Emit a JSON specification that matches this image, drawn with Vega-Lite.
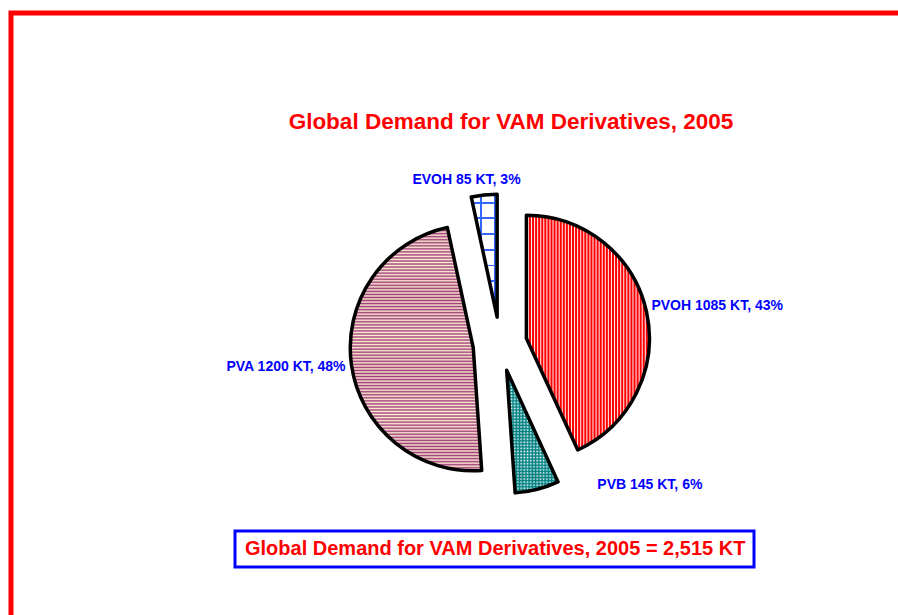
{
  "$schema": "https://vega.github.io/schema/vega-lite/v6.json",
  "autosize": {"type": "none"},
  "width": 978,
  "height": 662,
  "padding": {"left": 11, "top": 13, "right": -91, "bottom": -60},
  "background": "white",
  "view": {"stroke": "#ff0000", "strokeWidth": 5},
  "title": {
    "text": "Global Demand for VAM Derivatives, 2005",
    "color": "#ff0000",
    "font": "Liberation Sans",
    "fontWeight": "bold",
    "fontSize": 22.5,
    "anchor": "middle",
    "frame": "group",
    "baseline": "alphabetic",
    "offset": -138,
    "dx": 11
  },
  "data": {
    "values": [
      {"name": "PVOH", "value": 1085, "label": "PVOH 1085 KT, 43%"},
      {"name": "PVB", "value": 145, "label": "PVB 145 KT, 6%"},
      {"name": "PVA", "value": 1200, "label": "PVA 1200 KT, 48%"},
      {"name": "EVOH", "value": 85, "label": "EVOH 85 KT, 3%"}
    ]
  },
  "transform": [
    {"stack": "value", "groupby": [], "as": ["v0", "v1"]},
    {"joinaggregate": [{"op": "sum", "field": "value", "as": "total"}]},
    {"calculate": "(datum.v0 + datum.v1) / 2", "as": "mid"}
  ],
  "layer": [
    {
      "transform": [{"filter": "datum.name == 'PVOH'"}],
      "mark": {
        "type": "arc", "radius": 123,
        "xOffset": {"expr": "27*sin(PI*(datum.v0+datum.v1)/datum.total)"},
        "yOffset": {"expr": "-27*cos(PI*(datum.v0+datum.v1)/datum.total)"},
        "fill": {"gradient": "linear", "x1": 0, "y1": 0, "x2": 1, "y2": 0, "stops": [
          {"offset": 0, "color": "#ff0000"}, {"offset": 0.0083, "color": "#ff0000"}, {"offset": 0.0167, "color": "#fff0f0"}, {"offset": 0.025, "color": "#ff0000"}, {"offset": 0.0333, "color": "#ff0000"}, {"offset": 0.0417, "color": "#fff0f0"}, {"offset": 0.05, "color": "#ff0000"}, {"offset": 0.0583, "color": "#ff0000"}, {"offset": 0.0667, "color": "#fff0f0"}, {"offset": 0.075, "color": "#ff0000"}, {"offset": 0.0833, "color": "#ff0000"}, {"offset": 0.0917, "color": "#fff0f0"},
          {"offset": 0.1, "color": "#ff0000"}, {"offset": 0.1083, "color": "#ff0000"}, {"offset": 0.1167, "color": "#fff0f0"}, {"offset": 0.125, "color": "#ff0000"}, {"offset": 0.1333, "color": "#ff0000"}, {"offset": 0.1417, "color": "#fff0f0"}, {"offset": 0.15, "color": "#ff0000"}, {"offset": 0.1583, "color": "#ff0000"}, {"offset": 0.1667, "color": "#fff0f0"}, {"offset": 0.175, "color": "#ff0000"}, {"offset": 0.1833, "color": "#ff0000"}, {"offset": 0.1917, "color": "#fff0f0"},
          {"offset": 0.2, "color": "#ff0000"}, {"offset": 0.2083, "color": "#ff0000"}, {"offset": 0.2167, "color": "#fff0f0"}, {"offset": 0.225, "color": "#ff0000"}, {"offset": 0.2333, "color": "#ff0000"}, {"offset": 0.2417, "color": "#fff0f0"}, {"offset": 0.25, "color": "#ff0000"}, {"offset": 0.2583, "color": "#ff0000"}, {"offset": 0.2667, "color": "#fff0f0"}, {"offset": 0.275, "color": "#ff0000"}, {"offset": 0.2833, "color": "#ff0000"}, {"offset": 0.2917, "color": "#fff0f0"},
          {"offset": 0.3, "color": "#ff0000"}, {"offset": 0.3083, "color": "#ff0000"}, {"offset": 0.3167, "color": "#fff0f0"}, {"offset": 0.325, "color": "#ff0000"}, {"offset": 0.3333, "color": "#ff0000"}, {"offset": 0.3417, "color": "#fff0f0"}, {"offset": 0.35, "color": "#ff0000"}, {"offset": 0.3583, "color": "#ff0000"}, {"offset": 0.3667, "color": "#fff0f0"}, {"offset": 0.375, "color": "#ff0000"}, {"offset": 0.3833, "color": "#ff0000"}, {"offset": 0.3917, "color": "#fff0f0"},
          {"offset": 0.4, "color": "#ff0000"}, {"offset": 0.4083, "color": "#ff0000"}, {"offset": 0.4167, "color": "#fff0f0"}, {"offset": 0.425, "color": "#ff0000"}, {"offset": 0.4333, "color": "#ff0000"}, {"offset": 0.4417, "color": "#fff0f0"}, {"offset": 0.45, "color": "#ff0000"}, {"offset": 0.4583, "color": "#ff0000"}, {"offset": 0.4667, "color": "#fff0f0"}, {"offset": 0.475, "color": "#ff0000"}, {"offset": 0.4833, "color": "#ff0000"}, {"offset": 0.4917, "color": "#fff0f0"},
          {"offset": 0.5, "color": "#ff0000"}, {"offset": 0.5083, "color": "#ff0000"}, {"offset": 0.5167, "color": "#fff0f0"}, {"offset": 0.525, "color": "#ff0000"}, {"offset": 0.5333, "color": "#ff0000"}, {"offset": 0.5417, "color": "#fff0f0"}, {"offset": 0.55, "color": "#ff0000"}, {"offset": 0.5583, "color": "#ff0000"}, {"offset": 0.5667, "color": "#fff0f0"}, {"offset": 0.575, "color": "#ff0000"}, {"offset": 0.5833, "color": "#ff0000"}, {"offset": 0.5917, "color": "#fff0f0"},
          {"offset": 0.6, "color": "#ff0000"}, {"offset": 0.6083, "color": "#ff0000"}, {"offset": 0.6167, "color": "#fff0f0"}, {"offset": 0.625, "color": "#ff0000"}, {"offset": 0.6333, "color": "#ff0000"}, {"offset": 0.6417, "color": "#fff0f0"}, {"offset": 0.65, "color": "#ff0000"}, {"offset": 0.6583, "color": "#ff0000"}, {"offset": 0.6667, "color": "#fff0f0"}, {"offset": 0.675, "color": "#ff0000"}, {"offset": 0.6833, "color": "#ff0000"}, {"offset": 0.6917, "color": "#fff0f0"},
          {"offset": 0.7, "color": "#ff0000"}, {"offset": 0.7083, "color": "#ff0000"}, {"offset": 0.7167, "color": "#fff0f0"}, {"offset": 0.725, "color": "#ff0000"}, {"offset": 0.7333, "color": "#ff0000"}, {"offset": 0.7417, "color": "#fff0f0"}, {"offset": 0.75, "color": "#ff0000"}, {"offset": 0.7583, "color": "#ff0000"}, {"offset": 0.7667, "color": "#fff0f0"}, {"offset": 0.775, "color": "#ff0000"}, {"offset": 0.7833, "color": "#ff0000"}, {"offset": 0.7917, "color": "#fff0f0"},
          {"offset": 0.8, "color": "#ff0000"}, {"offset": 0.8083, "color": "#ff0000"}, {"offset": 0.8167, "color": "#fff0f0"}, {"offset": 0.825, "color": "#ff0000"}, {"offset": 0.8333, "color": "#ff0000"}, {"offset": 0.8417, "color": "#fff0f0"}, {"offset": 0.85, "color": "#ff0000"}, {"offset": 0.8583, "color": "#ff0000"}, {"offset": 0.8667, "color": "#fff0f0"}, {"offset": 0.875, "color": "#ff0000"}, {"offset": 0.8833, "color": "#ff0000"}, {"offset": 0.8917, "color": "#fff0f0"},
          {"offset": 0.9, "color": "#ff0000"}, {"offset": 0.9083, "color": "#ff0000"}, {"offset": 0.9167, "color": "#fff0f0"}, {"offset": 0.925, "color": "#ff0000"}, {"offset": 0.9333, "color": "#ff0000"}, {"offset": 0.9417, "color": "#fff0f0"}, {"offset": 0.95, "color": "#ff0000"}, {"offset": 0.9583, "color": "#ff0000"}, {"offset": 0.9667, "color": "#fff0f0"}, {"offset": 0.975, "color": "#ff0000"}, {"offset": 0.9833, "color": "#ff0000"}, {"offset": 0.9917, "color": "#fff0f0"},
          {"offset": 1, "color": "#ff0000"}
        ]}
      },
      "encoding": {
        "theta": {"field": "v0", "type": "quantitative", "scale": {"domain": [0, 2515]}},
        "theta2": {"field": "v1"}
      }
    },
    {
      "transform": [{"filter": "datum.name == 'PVB'"}],
      "mark": {
        "type": "arc", "radius": 123, "fill": "#ffffff",
        "xOffset": {"expr": "27*sin(PI*(datum.v0+datum.v1)/datum.total)"},
        "yOffset": {"expr": "-27*cos(PI*(datum.v0+datum.v1)/datum.total)"}
      },
      "encoding": {
        "theta": {"field": "v0", "type": "quantitative", "scale": {"domain": [0, 2515]}},
        "theta2": {"field": "v1"}
      }
    },
    {
      "transform": [{"filter": "datum.name == 'PVB'"}],
      "mark": {
        "type": "arc", "radius": 123,
        "xOffset": {"expr": "27*sin(PI*(datum.v0+datum.v1)/datum.total)"},
        "yOffset": {"expr": "-27*cos(PI*(datum.v0+datum.v1)/datum.total)"},
        "fill": {"gradient": "linear", "x1": 0, "y1": 0, "x2": 0, "y2": 1, "stops": [
          {"offset": 0, "color": "#008080"}, {"offset": 0.0125, "color": "rgba(0,128,128,0)"}, {"offset": 0.025, "color": "#008080"}, {"offset": 0.0375, "color": "rgba(0,128,128,0)"}, {"offset": 0.05, "color": "#008080"}, {"offset": 0.0625, "color": "rgba(0,128,128,0)"}, {"offset": 0.075, "color": "#008080"}, {"offset": 0.0875, "color": "rgba(0,128,128,0)"},
          {"offset": 0.1, "color": "#008080"}, {"offset": 0.1125, "color": "rgba(0,128,128,0)"}, {"offset": 0.125, "color": "#008080"}, {"offset": 0.1375, "color": "rgba(0,128,128,0)"}, {"offset": 0.15, "color": "#008080"}, {"offset": 0.1625, "color": "rgba(0,128,128,0)"}, {"offset": 0.175, "color": "#008080"}, {"offset": 0.1875, "color": "rgba(0,128,128,0)"},
          {"offset": 0.2, "color": "#008080"}, {"offset": 0.2125, "color": "rgba(0,128,128,0)"}, {"offset": 0.225, "color": "#008080"}, {"offset": 0.2375, "color": "rgba(0,128,128,0)"}, {"offset": 0.25, "color": "#008080"}, {"offset": 0.2625, "color": "rgba(0,128,128,0)"}, {"offset": 0.275, "color": "#008080"}, {"offset": 0.2875, "color": "rgba(0,128,128,0)"},
          {"offset": 0.3, "color": "#008080"}, {"offset": 0.3125, "color": "rgba(0,128,128,0)"}, {"offset": 0.325, "color": "#008080"}, {"offset": 0.3375, "color": "rgba(0,128,128,0)"}, {"offset": 0.35, "color": "#008080"}, {"offset": 0.3625, "color": "rgba(0,128,128,0)"}, {"offset": 0.375, "color": "#008080"}, {"offset": 0.3875, "color": "rgba(0,128,128,0)"},
          {"offset": 0.4, "color": "#008080"}, {"offset": 0.4125, "color": "rgba(0,128,128,0)"}, {"offset": 0.425, "color": "#008080"}, {"offset": 0.4375, "color": "rgba(0,128,128,0)"}, {"offset": 0.45, "color": "#008080"}, {"offset": 0.4625, "color": "rgba(0,128,128,0)"}, {"offset": 0.475, "color": "#008080"}, {"offset": 0.4875, "color": "rgba(0,128,128,0)"},
          {"offset": 0.5, "color": "#008080"}, {"offset": 0.5125, "color": "rgba(0,128,128,0)"}, {"offset": 0.525, "color": "#008080"}, {"offset": 0.5375, "color": "rgba(0,128,128,0)"}, {"offset": 0.55, "color": "#008080"}, {"offset": 0.5625, "color": "rgba(0,128,128,0)"}, {"offset": 0.575, "color": "#008080"}, {"offset": 0.5875, "color": "rgba(0,128,128,0)"},
          {"offset": 0.6, "color": "#008080"}, {"offset": 0.6125, "color": "rgba(0,128,128,0)"}, {"offset": 0.625, "color": "#008080"}, {"offset": 0.6375, "color": "rgba(0,128,128,0)"}, {"offset": 0.65, "color": "#008080"}, {"offset": 0.6625, "color": "rgba(0,128,128,0)"}, {"offset": 0.675, "color": "#008080"}, {"offset": 0.6875, "color": "rgba(0,128,128,0)"},
          {"offset": 0.7, "color": "#008080"}, {"offset": 0.7125, "color": "rgba(0,128,128,0)"}, {"offset": 0.725, "color": "#008080"}, {"offset": 0.7375, "color": "rgba(0,128,128,0)"}, {"offset": 0.75, "color": "#008080"}, {"offset": 0.7625, "color": "rgba(0,128,128,0)"}, {"offset": 0.775, "color": "#008080"}, {"offset": 0.7875, "color": "rgba(0,128,128,0)"},
          {"offset": 0.8, "color": "#008080"}, {"offset": 0.8125, "color": "rgba(0,128,128,0)"}, {"offset": 0.825, "color": "#008080"}, {"offset": 0.8375, "color": "rgba(0,128,128,0)"}, {"offset": 0.85, "color": "#008080"}, {"offset": 0.8625, "color": "rgba(0,128,128,0)"}, {"offset": 0.875, "color": "#008080"}, {"offset": 0.8875, "color": "rgba(0,128,128,0)"},
          {"offset": 0.9, "color": "#008080"}, {"offset": 0.9125, "color": "rgba(0,128,128,0)"}, {"offset": 0.925, "color": "#008080"}, {"offset": 0.9375, "color": "rgba(0,128,128,0)"}, {"offset": 0.95, "color": "#008080"}, {"offset": 0.9625, "color": "rgba(0,128,128,0)"}, {"offset": 0.975, "color": "#008080"}, {"offset": 0.9875, "color": "rgba(0,128,128,0)"},
          {"offset": 1, "color": "#008080"}
        ]}
      },
      "encoding": {
        "theta": {"field": "v0", "type": "quantitative", "scale": {"domain": [0, 2515]}},
        "theta2": {"field": "v1"}
      }
    },
    {
      "transform": [{"filter": "datum.name == 'PVB'"}],
      "mark": {
        "type": "arc", "radius": 123,
        "xOffset": {"expr": "27*sin(PI*(datum.v0+datum.v1)/datum.total)"},
        "yOffset": {"expr": "-27*cos(PI*(datum.v0+datum.v1)/datum.total)"},
        "fill": {"gradient": "linear", "x1": 0, "y1": 0, "x2": 1, "y2": 0, "stops": [
          {"offset": 0, "color": "#008080"}, {"offset": 0.03125, "color": "rgba(0,128,128,0)"}, {"offset": 0.0625, "color": "#008080"}, {"offset": 0.09375, "color": "rgba(0,128,128,0)"}, {"offset": 0.125, "color": "#008080"}, {"offset": 0.15625, "color": "rgba(0,128,128,0)"}, {"offset": 0.1875, "color": "#008080"}, {"offset": 0.21875, "color": "rgba(0,128,128,0)"},
          {"offset": 0.25, "color": "#008080"}, {"offset": 0.28125, "color": "rgba(0,128,128,0)"}, {"offset": 0.3125, "color": "#008080"}, {"offset": 0.34375, "color": "rgba(0,128,128,0)"}, {"offset": 0.375, "color": "#008080"}, {"offset": 0.40625, "color": "rgba(0,128,128,0)"}, {"offset": 0.4375, "color": "#008080"}, {"offset": 0.46875, "color": "rgba(0,128,128,0)"},
          {"offset": 0.5, "color": "#008080"}, {"offset": 0.53125, "color": "rgba(0,128,128,0)"}, {"offset": 0.5625, "color": "#008080"}, {"offset": 0.59375, "color": "rgba(0,128,128,0)"}, {"offset": 0.625, "color": "#008080"}, {"offset": 0.65625, "color": "rgba(0,128,128,0)"}, {"offset": 0.6875, "color": "#008080"}, {"offset": 0.71875, "color": "rgba(0,128,128,0)"},
          {"offset": 0.75, "color": "#008080"}, {"offset": 0.78125, "color": "rgba(0,128,128,0)"}, {"offset": 0.8125, "color": "#008080"}, {"offset": 0.84375, "color": "rgba(0,128,128,0)"}, {"offset": 0.875, "color": "#008080"}, {"offset": 0.90625, "color": "rgba(0,128,128,0)"}, {"offset": 0.9375, "color": "#008080"}, {"offset": 0.96875, "color": "rgba(0,128,128,0)"},
          {"offset": 1, "color": "#008080"}
        ]}
      },
      "encoding": {
        "theta": {"field": "v0", "type": "quantitative", "scale": {"domain": [0, 2515]}},
        "theta2": {"field": "v1"}
      }
    },
    {
      "transform": [{"filter": "datum.name == 'PVA'"}],
      "mark": {
        "type": "arc", "radius": 123,
        "xOffset": {"expr": "27*sin(PI*(datum.v0+datum.v1)/datum.total)"},
        "yOffset": {"expr": "-27*cos(PI*(datum.v0+datum.v1)/datum.total)"},
        "fill": {"gradient": "linear", "x1": 0, "y1": 0, "x2": 0, "y2": 1, "stops": [
          {"offset": 0, "color": "#9e3c7c"}, {"offset": 0.00625, "color": "#fff0d0"}, {"offset": 0.0125, "color": "#9e3c7c"}, {"offset": 0.01875, "color": "#fff0d0"}, {"offset": 0.025, "color": "#9e3c7c"}, {"offset": 0.03125, "color": "#fff0d0"}, {"offset": 0.0375, "color": "#9e3c7c"}, {"offset": 0.04375, "color": "#fff0d0"}, {"offset": 0.05, "color": "#9e3c7c"}, {"offset": 0.05625, "color": "#fff0d0"}, {"offset": 0.0625, "color": "#9e3c7c"}, {"offset": 0.06875, "color": "#fff0d0"}, {"offset": 0.075, "color": "#9e3c7c"}, {"offset": 0.08125, "color": "#fff0d0"}, {"offset": 0.0875, "color": "#9e3c7c"}, {"offset": 0.09375, "color": "#fff0d0"},
          {"offset": 0.1, "color": "#9e3c7c"}, {"offset": 0.10625, "color": "#fff0d0"}, {"offset": 0.1125, "color": "#9e3c7c"}, {"offset": 0.11875, "color": "#fff0d0"}, {"offset": 0.125, "color": "#9e3c7c"}, {"offset": 0.13125, "color": "#fff0d0"}, {"offset": 0.1375, "color": "#9e3c7c"}, {"offset": 0.14375, "color": "#fff0d0"}, {"offset": 0.15, "color": "#9e3c7c"}, {"offset": 0.15625, "color": "#fff0d0"}, {"offset": 0.1625, "color": "#9e3c7c"}, {"offset": 0.16875, "color": "#fff0d0"}, {"offset": 0.175, "color": "#9e3c7c"}, {"offset": 0.18125, "color": "#fff0d0"}, {"offset": 0.1875, "color": "#9e3c7c"}, {"offset": 0.19375, "color": "#fff0d0"},
          {"offset": 0.2, "color": "#9e3c7c"}, {"offset": 0.20625, "color": "#fff0d0"}, {"offset": 0.2125, "color": "#9e3c7c"}, {"offset": 0.21875, "color": "#fff0d0"}, {"offset": 0.225, "color": "#9e3c7c"}, {"offset": 0.23125, "color": "#fff0d0"}, {"offset": 0.2375, "color": "#9e3c7c"}, {"offset": 0.24375, "color": "#fff0d0"}, {"offset": 0.25, "color": "#9e3c7c"}, {"offset": 0.25625, "color": "#fff0d0"}, {"offset": 0.2625, "color": "#9e3c7c"}, {"offset": 0.26875, "color": "#fff0d0"}, {"offset": 0.275, "color": "#9e3c7c"}, {"offset": 0.28125, "color": "#fff0d0"}, {"offset": 0.2875, "color": "#9e3c7c"}, {"offset": 0.29375, "color": "#fff0d0"},
          {"offset": 0.3, "color": "#9e3c7c"}, {"offset": 0.30625, "color": "#fff0d0"}, {"offset": 0.3125, "color": "#9e3c7c"}, {"offset": 0.31875, "color": "#fff0d0"}, {"offset": 0.325, "color": "#9e3c7c"}, {"offset": 0.33125, "color": "#fff0d0"}, {"offset": 0.3375, "color": "#9e3c7c"}, {"offset": 0.34375, "color": "#fff0d0"}, {"offset": 0.35, "color": "#9e3c7c"}, {"offset": 0.35625, "color": "#fff0d0"}, {"offset": 0.3625, "color": "#9e3c7c"}, {"offset": 0.36875, "color": "#fff0d0"}, {"offset": 0.375, "color": "#9e3c7c"}, {"offset": 0.38125, "color": "#fff0d0"}, {"offset": 0.3875, "color": "#9e3c7c"}, {"offset": 0.39375, "color": "#fff0d0"},
          {"offset": 0.4, "color": "#9e3c7c"}, {"offset": 0.40625, "color": "#fff0d0"}, {"offset": 0.4125, "color": "#9e3c7c"}, {"offset": 0.41875, "color": "#fff0d0"}, {"offset": 0.425, "color": "#9e3c7c"}, {"offset": 0.43125, "color": "#fff0d0"}, {"offset": 0.4375, "color": "#9e3c7c"}, {"offset": 0.44375, "color": "#fff0d0"}, {"offset": 0.45, "color": "#9e3c7c"}, {"offset": 0.45625, "color": "#fff0d0"}, {"offset": 0.4625, "color": "#9e3c7c"}, {"offset": 0.46875, "color": "#fff0d0"}, {"offset": 0.475, "color": "#9e3c7c"}, {"offset": 0.48125, "color": "#fff0d0"}, {"offset": 0.4875, "color": "#9e3c7c"}, {"offset": 0.49375, "color": "#fff0d0"},
          {"offset": 0.5, "color": "#9e3c7c"}, {"offset": 0.50625, "color": "#fff0d0"}, {"offset": 0.5125, "color": "#9e3c7c"}, {"offset": 0.51875, "color": "#fff0d0"}, {"offset": 0.525, "color": "#9e3c7c"}, {"offset": 0.53125, "color": "#fff0d0"}, {"offset": 0.5375, "color": "#9e3c7c"}, {"offset": 0.54375, "color": "#fff0d0"}, {"offset": 0.55, "color": "#9e3c7c"}, {"offset": 0.55625, "color": "#fff0d0"}, {"offset": 0.5625, "color": "#9e3c7c"}, {"offset": 0.56875, "color": "#fff0d0"}, {"offset": 0.575, "color": "#9e3c7c"}, {"offset": 0.58125, "color": "#fff0d0"}, {"offset": 0.5875, "color": "#9e3c7c"}, {"offset": 0.59375, "color": "#fff0d0"},
          {"offset": 0.6, "color": "#9e3c7c"}, {"offset": 0.60625, "color": "#fff0d0"}, {"offset": 0.6125, "color": "#9e3c7c"}, {"offset": 0.61875, "color": "#fff0d0"}, {"offset": 0.625, "color": "#9e3c7c"}, {"offset": 0.63125, "color": "#fff0d0"}, {"offset": 0.6375, "color": "#9e3c7c"}, {"offset": 0.64375, "color": "#fff0d0"}, {"offset": 0.65, "color": "#9e3c7c"}, {"offset": 0.65625, "color": "#fff0d0"}, {"offset": 0.6625, "color": "#9e3c7c"}, {"offset": 0.66875, "color": "#fff0d0"}, {"offset": 0.675, "color": "#9e3c7c"}, {"offset": 0.68125, "color": "#fff0d0"}, {"offset": 0.6875, "color": "#9e3c7c"}, {"offset": 0.69375, "color": "#fff0d0"},
          {"offset": 0.7, "color": "#9e3c7c"}, {"offset": 0.70625, "color": "#fff0d0"}, {"offset": 0.7125, "color": "#9e3c7c"}, {"offset": 0.71875, "color": "#fff0d0"}, {"offset": 0.725, "color": "#9e3c7c"}, {"offset": 0.73125, "color": "#fff0d0"}, {"offset": 0.7375, "color": "#9e3c7c"}, {"offset": 0.74375, "color": "#fff0d0"}, {"offset": 0.75, "color": "#9e3c7c"}, {"offset": 0.75625, "color": "#fff0d0"}, {"offset": 0.7625, "color": "#9e3c7c"}, {"offset": 0.76875, "color": "#fff0d0"}, {"offset": 0.775, "color": "#9e3c7c"}, {"offset": 0.78125, "color": "#fff0d0"}, {"offset": 0.7875, "color": "#9e3c7c"}, {"offset": 0.79375, "color": "#fff0d0"},
          {"offset": 0.8, "color": "#9e3c7c"}, {"offset": 0.80625, "color": "#fff0d0"}, {"offset": 0.8125, "color": "#9e3c7c"}, {"offset": 0.81875, "color": "#fff0d0"}, {"offset": 0.825, "color": "#9e3c7c"}, {"offset": 0.83125, "color": "#fff0d0"}, {"offset": 0.8375, "color": "#9e3c7c"}, {"offset": 0.84375, "color": "#fff0d0"}, {"offset": 0.85, "color": "#9e3c7c"}, {"offset": 0.85625, "color": "#fff0d0"}, {"offset": 0.8625, "color": "#9e3c7c"}, {"offset": 0.86875, "color": "#fff0d0"}, {"offset": 0.875, "color": "#9e3c7c"}, {"offset": 0.88125, "color": "#fff0d0"}, {"offset": 0.8875, "color": "#9e3c7c"}, {"offset": 0.89375, "color": "#fff0d0"},
          {"offset": 0.9, "color": "#9e3c7c"}, {"offset": 0.90625, "color": "#fff0d0"}, {"offset": 0.9125, "color": "#9e3c7c"}, {"offset": 0.91875, "color": "#fff0d0"}, {"offset": 0.925, "color": "#9e3c7c"}, {"offset": 0.93125, "color": "#fff0d0"}, {"offset": 0.9375, "color": "#9e3c7c"}, {"offset": 0.94375, "color": "#fff0d0"}, {"offset": 0.95, "color": "#9e3c7c"}, {"offset": 0.95625, "color": "#fff0d0"}, {"offset": 0.9625, "color": "#9e3c7c"}, {"offset": 0.96875, "color": "#fff0d0"}, {"offset": 0.975, "color": "#9e3c7c"}, {"offset": 0.98125, "color": "#fff0d0"}, {"offset": 0.9875, "color": "#9e3c7c"}, {"offset": 0.99375, "color": "#fff0d0"},
          {"offset": 1, "color": "#9e3c7c"}
        ]}
      },
      "encoding": {
        "theta": {"field": "v0", "type": "quantitative", "scale": {"domain": [0, 2515]}},
        "theta2": {"field": "v1"}
      }
    },
    {
      "transform": [{"filter": "datum.name == 'EVOH'"}],
      "mark": {
        "type": "arc", "radius": 123, "fill": "#ffffff",
        "xOffset": {"expr": "27*sin(PI*(datum.v0+datum.v1)/datum.total)"},
        "yOffset": {"expr": "-27*cos(PI*(datum.v0+datum.v1)/datum.total)"}
      },
      "encoding": {
        "theta": {"field": "v0", "type": "quantitative", "scale": {"domain": [0, 2515]}},
        "theta2": {"field": "v1"}
      }
    },
    {
      "transform": [{"filter": "datum.name == 'EVOH'"}],
      "mark": {
        "type": "arc", "radius": 123,
        "xOffset": {"expr": "27*sin(PI*(datum.v0+datum.v1)/datum.total)"},
        "yOffset": {"expr": "-27*cos(PI*(datum.v0+datum.v1)/datum.total)"},
        "fill": {"gradient": "linear", "x1": 0, "y1": 0, "x2": 0, "y2": 1, "stops": [
          {"offset": 0, "color": "rgba(51,102,255,0)"}, {"offset": 0.06, "color": "rgba(51,102,255,0)"}, {"offset": 0.06, "color": "#3366ff"}, {"offset": 0.076, "color": "#3366ff"}, {"offset": 0.076, "color": "rgba(51,102,255,0)"},
          {"offset": 0.188, "color": "rgba(51,102,255,0)"}, {"offset": 0.188, "color": "#3366ff"}, {"offset": 0.204, "color": "#3366ff"}, {"offset": 0.204, "color": "rgba(51,102,255,0)"},
          {"offset": 0.316, "color": "rgba(51,102,255,0)"}, {"offset": 0.316, "color": "#3366ff"}, {"offset": 0.332, "color": "#3366ff"}, {"offset": 0.332, "color": "rgba(51,102,255,0)"},
          {"offset": 0.444, "color": "rgba(51,102,255,0)"}, {"offset": 0.444, "color": "#3366ff"}, {"offset": 0.46, "color": "#3366ff"}, {"offset": 0.46, "color": "rgba(51,102,255,0)"},
          {"offset": 0.572, "color": "rgba(51,102,255,0)"}, {"offset": 0.572, "color": "#3366ff"}, {"offset": 0.588, "color": "#3366ff"}, {"offset": 0.588, "color": "rgba(51,102,255,0)"},
          {"offset": 0.7, "color": "rgba(51,102,255,0)"}, {"offset": 0.7, "color": "#3366ff"}, {"offset": 0.716, "color": "#3366ff"}, {"offset": 0.716, "color": "rgba(51,102,255,0)"},
          {"offset": 0.828, "color": "rgba(51,102,255,0)"}, {"offset": 0.828, "color": "#3366ff"}, {"offset": 0.844, "color": "#3366ff"}, {"offset": 0.844, "color": "rgba(51,102,255,0)"},
          {"offset": 0.956, "color": "rgba(51,102,255,0)"}, {"offset": 0.956, "color": "#3366ff"}, {"offset": 0.972, "color": "#3366ff"}, {"offset": 0.972, "color": "rgba(51,102,255,0)"},
          {"offset": 1, "color": "rgba(51,102,255,0)"}
        ]}
      },
      "encoding": {
        "theta": {"field": "v0", "type": "quantitative", "scale": {"domain": [0, 2515]}},
        "theta2": {"field": "v1"}
      }
    },
    {
      "transform": [{"filter": "datum.name == 'EVOH'"}],
      "mark": {
        "type": "arc", "radius": 123,
        "xOffset": {"expr": "27*sin(PI*(datum.v0+datum.v1)/datum.total)"},
        "yOffset": {"expr": "-27*cos(PI*(datum.v0+datum.v1)/datum.total)"},
        "fill": {"gradient": "linear", "x1": 0, "y1": 0, "x2": 1, "y2": 0, "stops": [
          {"offset": 0, "color": "rgba(51,102,255,0)"}, {"offset": 0.33, "color": "rgba(51,102,255,0)"}, {"offset": 0.33, "color": "#3366ff"}, {"offset": 0.41, "color": "#3366ff"}, {"offset": 0.41, "color": "rgba(51,102,255,0)"},
          {"offset": 0.88, "color": "rgba(51,102,255,0)"}, {"offset": 0.88, "color": "#3366ff"}, {"offset": 0.96, "color": "#3366ff"}, {"offset": 0.96, "color": "rgba(51,102,255,0)"},
          {"offset": 1, "color": "rgba(51,102,255,0)"}
        ]}
      },
      "encoding": {
        "theta": {"field": "v0", "type": "quantitative", "scale": {"domain": [0, 2515]}},
        "theta2": {"field": "v1"}
      }
    },
    {
      "mark": {
        "type": "arc", "radius": 123, "filled": false,
        "stroke": "#000000", "strokeWidth": 3.5, "strokeJoin": "round",
        "xOffset": {"expr": "27*sin(PI*(datum.v0+datum.v1)/datum.total)"},
        "yOffset": {"expr": "-27*cos(PI*(datum.v0+datum.v1)/datum.total)"}
      },
      "encoding": {
        "theta": {"field": "v0", "type": "quantitative", "scale": {"domain": [0, 2515]}},
        "theta2": {"field": "v1"}
      }
    },
    {
      "transform": [{"filter": "datum.name == 'PVOH'"}],
      "mark": {"type": "text", "radius": 155, "align": "left", "baseline": "middle", "dy": -5,
        "font": "Liberation Sans", "fontWeight": "bold", "fontSize": 14},
      "encoding": {
        "theta": {"field": "mid", "type": "quantitative", "scale": {"domain": [0, 2515]}},
        "text": {"field": "label"},
        "color": {
          "datum": "Global Demand for VAM Derivatives, 2005 = 2,515 KT",
          "type": "nominal",
          "scale": {"range": ["#0000ff"]},
          "legend": {"title": null, "orient": "none", "legendX": 224, "legendY": 518}
        }
      }
    },
    {
      "transform": [{"filter": "datum.name == 'PVB'"}],
      "mark": {"type": "text", "radius": 155, "align": "left", "baseline": "middle", "dx": 59, "dy": -9,
        "font": "Liberation Sans", "fontWeight": "bold", "fontSize": 14},
      "encoding": {
        "theta": {"field": "mid", "type": "quantitative", "scale": {"domain": [0, 2515]}},
        "text": {"field": "label"},
        "color": {"datum": "Global Demand for VAM Derivatives, 2005 = 2,515 KT", "type": "nominal"}
      }
    },
    {
      "transform": [{"filter": "datum.name == 'PVA'"}],
      "mark": {"type": "text", "radius": 156, "align": "right", "baseline": "middle", "dy": 1,
        "font": "Liberation Sans", "fontWeight": "bold", "fontSize": 14},
      "encoding": {
        "theta": {"field": "mid", "type": "quantitative", "scale": {"domain": [0, 2515]}},
        "text": {"field": "label"},
        "color": {"datum": "Global Demand for VAM Derivatives, 2005 = 2,515 KT", "type": "nominal"}
      }
    },
    {
      "transform": [{"filter": "datum.name == 'EVOH'"}],
      "mark": {"type": "text", "radius": 165, "align": "center", "baseline": "middle", "dx": -16,
        "font": "Liberation Sans", "fontWeight": "bold", "fontSize": 14},
      "encoding": {
        "theta": {"field": "mid", "type": "quantitative", "scale": {"domain": [0, 2515]}},
        "text": {"field": "label"},
        "color": {"datum": "Global Demand for VAM Derivatives, 2005 = 2,515 KT", "type": "nominal"}
      }
    }
  ],
  "config": {
    "legend": {
      "symbolSize": 0,
      "symbolOpacity": 0,
      "symbolStrokeWidth": 0,
      "labelOffset": -18,
      "labelFont": "Liberation Sans",
      "labelFontWeight": "bold",
      "labelFontSize": 20,
      "labelColor": "#ff0000",
      "labelLimit": 0,
      "strokeColor": "#0000ff",
      "strokeWidth": 3,
      "padding": 8
    }
  }
}
